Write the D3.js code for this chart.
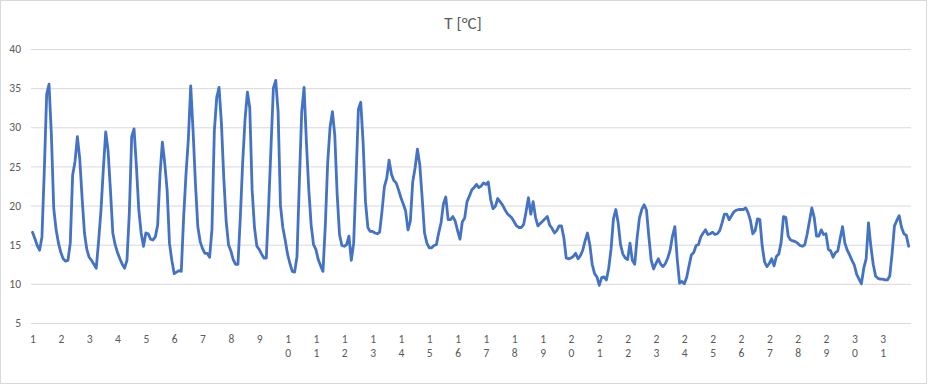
<!DOCTYPE html>
<html>
<head>
<meta charset="utf-8">
<script src="https://cdn.jsdelivr.net/npm/d3@7"></script>
<style>
  body { margin: 0; background: #fff; }
  text { font-family: Calibri, Carlito, Lato, sans-serif; fill: #595959; }
</style>
</head>
<body>
<svg id="chart" width="928" height="385"></svg>
<script>
// ---- data (2-hourly readings, 12 per day) ----
const title = "T [°C]";
const dayLabels = d3.range(1, 32).map(String);
const yTicks = [5, 10, 15, 20, 25, 30, 35, 40];
const pointsPerDay = 12;

const week1 = [ // days 1-7
  16.6, 15.8, 14.9, 14.3, 16.0, 24.5, 34.2, 35.5, 29.0, 19.6, 16.9, 15.2,
  14.0, 13.2, 12.9, 13.0, 15.2, 23.9, 25.6, 28.8, 26.0, 21.0, 16.5, 14.4,
  13.4, 13.0, 12.5, 12.0, 15.5, 19.4, 24.7, 29.4, 27.0, 22.0, 16.5, 15.0,
  14.0, 13.2, 12.5, 12.0, 13.0, 19.0, 28.8, 29.8, 25.0, 19.5, 16.5, 14.8,
  16.5, 16.4, 15.7, 15.6, 16.0, 17.5, 24.0, 28.1, 25.4, 22.0, 15.2, 13.0,
  11.3, 11.5, 11.7, 11.6, 18.5, 24.0, 28.5, 35.3, 29.5, 22.8, 17.3, 15.4,
  14.5, 13.9, 13.9, 13.4, 17.0, 29.5, 33.8, 35.1, 30.5, 23.5, 18.0, 15.0
];
const week2 = [ // days 8-14
  14.2, 13.1, 12.5, 12.5, 18.5, 25.5, 31.0, 34.5, 32.5, 22.0, 17.2, 14.8,
  14.4, 13.8, 13.3, 13.3, 20.0, 27.5, 35.0, 36.0, 32.0, 20.0, 17.2, 15.6,
  13.8, 12.6, 11.6, 11.5, 13.5, 23.0, 32.0, 35.1, 28.0, 22.0, 17.5, 15.0,
  14.4, 13.1, 12.3, 11.6, 17.5, 25.5, 30.0, 32.0, 29.0, 21.5, 16.3, 14.9,
  14.8, 15.0, 16.1, 13.0, 15.2, 23.5, 32.3, 33.2, 28.0, 20.5, 17.2, 16.7,
  16.7, 16.5, 16.4, 16.6, 19.3, 22.4, 23.5, 25.8, 24.0, 23.2, 22.9, 22.0,
  21.0, 20.2, 19.3, 16.9, 18.0, 23.0, 24.8, 27.2, 25.2, 21.0, 16.5, 15.2
];
const week3 = [ // days 15-21
  14.6, 14.6, 14.9, 15.0, 16.5, 17.8, 20.2, 21.1, 18.2, 18.2, 18.6, 18.0,
  16.8, 15.7, 17.9, 18.4, 20.5, 21.2, 22.0, 22.3, 22.7, 22.3, 22.5, 22.9,
  22.7, 23.0, 20.8, 19.6, 19.9, 20.9, 20.5, 20.1, 19.5, 19.0, 18.7, 18.4,
  17.9, 17.4, 17.2, 17.2, 17.6, 19.2, 21.0, 18.9, 20.5, 18.5, 17.4, 17.7,
  18.0, 18.3, 18.6, 17.5, 17.1, 16.5, 16.8, 17.4, 17.4, 15.9, 13.3, 13.2,
  13.3, 13.5, 13.9, 13.2, 13.6, 14.3, 15.5, 16.5, 15.0, 12.5, 11.3, 10.9,
   9.8, 10.8, 10.9, 10.5, 12.0, 14.5, 18.3, 19.5, 17.8, 15.0, 13.8, 13.3
];
const week4 = [ // days 22-28
  13.1, 15.2, 13.0, 12.5, 15.8, 18.4, 19.5, 20.1, 19.4, 16.0, 13.0, 11.9,
  12.6, 13.2, 12.5, 12.2, 12.6, 13.3, 14.3, 16.1, 17.3, 13.2, 10.1, 10.3,
  10.0, 10.8, 12.3, 13.7, 14.0, 14.9, 15.0, 16.0, 16.5, 16.9, 16.3, 16.4,
  16.6, 16.3, 16.4, 16.8, 17.8, 18.9, 18.9, 18.2, 18.7, 19.2, 19.4, 19.5,
  19.5, 19.5, 19.7, 19.1, 18.1, 16.4, 16.8, 18.3, 18.2, 14.8, 12.8, 12.2,
  12.6, 13.2, 12.3, 13.5, 13.8, 15.3, 18.6, 18.5, 16.1, 15.6, 15.5, 15.4,
  15.2, 14.9, 14.8, 15.0, 16.3, 18.0, 19.7, 18.5, 16.1, 16.1, 16.9, 16.3
];
const week5 = [ // days 29-31
  16.4, 14.4, 14.2, 13.4, 14.0, 14.2, 15.8, 17.3, 15.2, 14.3, 13.7, 13.0,
  12.4, 11.2, 10.6, 10.0, 12.0, 13.2, 17.8, 14.8, 12.5, 11.0, 10.7, 10.6,
  10.6, 10.5, 10.5, 11.0, 13.9, 17.4, 18.1, 18.7, 17.2, 16.4, 16.2, 14.8
];

const temps = week1.concat(week2, week3, week4, week5);

// ---- drawing ----
const W = 928, H = 385;
const plotLeft = 31, plotRight = 911, plotTop = 49, plotBottom = 323;
const svg = d3.select("#chart");

svg.append("rect")
  .attr("x", 0.5).attr("y", 0.5)
  .attr("width", W - 2).attr("height", H - 2)
  .attr("fill", "#fff").attr("stroke", "#d9d9d9");

const x = d3.scaleLinear().domain([0, dayLabels.length * pointsPerDay]).range([32.5, plotRight]);
const y = d3.scaleLinear().domain([5, 40]).range([plotBottom, plotTop]);

// y axis with gridlines
const gy = svg.append("g")
  .attr("transform", `translate(${plotLeft},0)`)
  .call(d3.axisLeft(y).tickValues(yTicks).tickSize(-(plotRight - plotLeft)).tickPadding(10));
gy.select(".domain").remove();
gy.selectAll(".tick line").attr("stroke", "#d9d9d9").attr("stroke-width", 1);
gy.selectAll(".tick text")
  .attr("fill", "#595959")
  .style("font-size", "11.5px")
  .style("font-family", "Calibri, Carlito, Lato, sans-serif");

// x axis with stacked digit labels
const gx = svg.append("g")
  .attr("transform", `translate(0,${plotBottom})`)
  .call(d3.axisBottom(x)
    .tickValues(d3.range(0, dayLabels.length * pointsPerDay, pointsPerDay))
    .tickSize(0)
    .tickFormat(i => dayLabels[i / pointsPerDay]));
gx.select(".domain").remove();
gx.selectAll(".tick text").each(function(d) {
  const t = d3.select(this);
  const label = dayLabels[d / pointsPerDay];
  t.text(null).attr("dy", null).attr("y", null)
    .attr("fill", "#595959")
    .style("font-size", "11.5px")
    .style("font-family", "Calibri, Carlito, Lato, sans-serif");
  label.split("").forEach((ch, k) => {
    t.append("tspan").attr("x", 0).attr("y", 20 + k * 14).text(ch);
  });
});

// line
const line = d3.line()
  .x((d, i) => x(i))
  .y(d => y(d))
  .curve(d3.curveLinear);

svg.append("path")
  .datum(temps)
  .attr("fill", "none")
  .attr("stroke", "#4472C4")
  .attr("stroke-width", 2.8)
  .attr("stroke-linejoin", "round")
  .attr("stroke-linecap", "round")
  .attr("d", line);

// title
svg.append("text")
  .attr("x", 463).attr("y", 29)
  .attr("text-anchor", "middle")
  .style("font-size", "17px")
  .text(title);
</script>
</body>
</html>
